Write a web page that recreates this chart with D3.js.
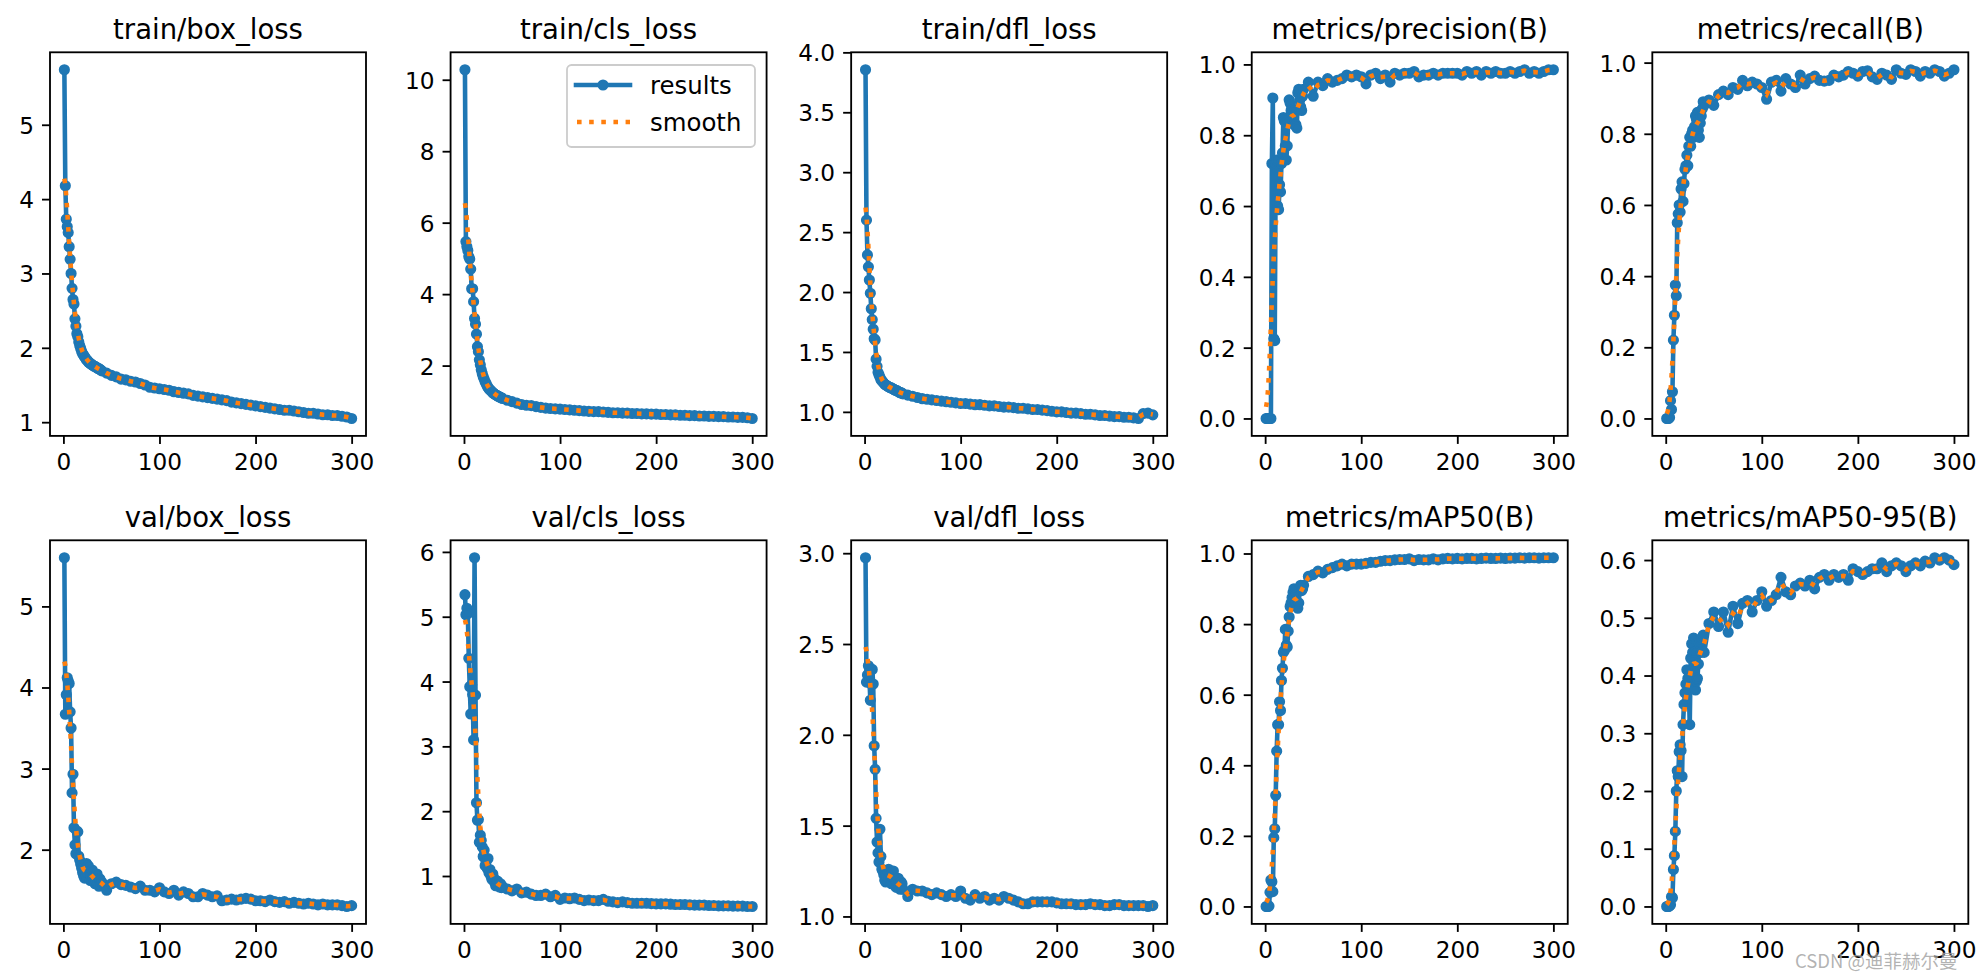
<!DOCTYPE html>
<html><head><meta charset="utf-8">
<script src="https://cdn.jsdelivr.net/npm/d3@7"></script>
<style>html,body{margin:0;padding:0;background:#fff;} svg{display:block;}</style>
</head><body>
<svg id="chart" width="1981" height="979"></svg>
<script>
// ---------------- data ----------------
const epochs = [1,2,3,4,5,6,7,8,9,10,11,12,13,14,15,16,17,18,19,20,21,22,23,24,25,26,27,28,29,30,31,32,33,34,35,36,37,38,39,40,
  45,50,55,60,65,70,75,80,85,90,95,100,105,110,115,120,125,130,135,140,145,150,155,160,165,170,175,180,185,190,195,200,
  205,210,215,220,225,230,235,240,245,250,255,260,265,270,275,280,285,290,295,300];

const trainBoxLoss = [5.74,4.18,3.73,3.63,3.55,3.36,3.19,3.00,2.80,2.65,2.59,2.39,2.29,2.19,2.15,2.08,2.03,1.99,1.95,1.92,
  1.90,1.88,1.86,1.84,1.83,1.81,1.80,1.79,1.78,1.77,1.76,1.75,1.75,1.74,1.73,1.72,1.72,1.71,1.70,1.69,
  1.66,1.63,1.61,1.58,1.57,1.55,1.54,1.52,1.50,1.47,1.46,1.45,1.44,1.43,1.41,1.40,1.39,1.38,1.36,1.35,1.34,1.33,1.32,1.31,1.30,1.29,
  1.27,1.26,1.25,1.24,1.23,1.22,1.21,1.20,1.19,1.18,1.17,1.16,1.16,1.15,1.14,1.13,1.12,1.12,1.11,1.10,1.10,1.09,1.09,1.08,1.07,1.05];

const trainClsLoss = [10.28,5.47,5.33,5.22,5.05,4.98,4.70,4.15,4.15,3.79,3.32,3.16,2.88,2.53,2.39,2.16,2.02,1.88,1.78,1.69,
  1.62,1.55,1.50,1.44,1.39,1.35,1.32,1.30,1.27,1.24,1.22,1.20,1.18,1.17,1.15,1.14,1.12,1.11,1.10,1.08,
  1.03,0.99,0.95,0.91,0.89,0.88,0.85,0.83,0.81,0.80,0.79,0.78,0.77,0.76,0.75,0.74,0.73,0.72,0.71,0.71,0.70,0.69,0.68,0.68,0.67,0.67,
  0.66,0.66,0.65,0.65,0.64,0.64,0.63,0.63,0.62,0.62,0.61,0.61,0.60,0.60,0.59,0.59,0.58,0.58,0.57,0.57,0.56,0.56,0.55,0.55,0.54,0.52];

const trainDflLoss = [3.855,2.60,2.31,2.21,2.10,1.99,1.86,1.77,1.69,1.61,1.60,1.44,1.38,1.33,1.31,1.29,1.27,1.26,1.25,1.24,
  1.23,1.225,1.22,1.215,1.21,1.205,1.20,1.20,1.195,1.19,1.185,1.18,1.18,1.175,1.17,1.165,1.16,1.16,1.155,1.15,
  1.14,1.13,1.12,1.11,1.105,1.10,1.095,1.09,1.085,1.08,1.075,1.07,1.07,1.065,1.06,1.06,1.055,1.05,1.05,1.045,1.04,1.04,1.035,1.03,1.03,
  1.025,1.02,1.02,1.015,1.01,1.005,1.00,1.00,0.995,0.99,0.99,0.985,0.98,0.98,0.975,0.97,0.97,0.965,0.96,0.96,0.955,0.955,0.95,0.945,0.985,0.99,0.975];

const precision = [0,0,0,0,0,0,0.72,0.905,0.225,0.22,0.72,0.73,0.60,0.59,0.66,0.64,0.72,0.75,0.85,0.84,
  0.77,0.73,0.77,0.84,0.90,0.89,0.87,0.86,0.84,0.83,0.87,0.83,0.82,0.92,0.93,0.90,0.88,0.87,0.91,0.93,
  0.95,0.91,0.95,0.94,0.96,0.95,0.955,0.96,0.97,0.965,0.97,0.965,0.945,0.97,0.975,0.96,0.97,0.95,0.975,0.97,0.975,0.975,0.98,0.965,0.97,
  0.97,0.975,0.97,0.975,0.975,0.975,0.975,0.97,0.98,0.975,0.98,0.97,0.98,0.975,0.98,0.975,0.975,0.98,0.975,0.98,0.985,0.975,0.98,0.975,0.98,0.985,0.985];

const recall = [0,0,0,0.003,0.05,0.025,0.075,0.22,0.29,0.375,0.345,0.55,0.575,0.60,0.58,0.645,0.665,0.61,0.66,0.70,
  0.71,0.74,0.71,0.765,0.79,0.765,0.80,0.81,0.79,0.82,0.85,0.84,0.86,0.81,0.79,0.83,0.85,0.87,0.89,0.88,
  0.895,0.88,0.91,0.92,0.91,0.93,0.925,0.95,0.935,0.945,0.94,0.93,0.897,0.945,0.95,0.92,0.955,0.94,0.93,0.965,0.94,0.955,0.962,0.95,0.948,
  0.95,0.965,0.96,0.965,0.975,0.97,0.962,0.975,0.977,0.96,0.953,0.97,0.965,0.953,0.98,0.97,0.967,0.98,0.975,0.962,0.975,0.97,0.98,0.975,0.962,0.97,0.98];

const valBoxLoss = [5.60,3.67,3.91,4.12,4.08,4.05,3.70,3.50,2.70,2.93,2.27,2.06,1.95,2.23,2.22,1.92,1.87,1.82,1.77,1.72,
  1.68,1.65,1.70,1.83,1.78,1.80,1.70,1.62,1.68,1.75,1.65,1.60,1.58,1.62,1.70,1.60,1.55,1.64,1.57,1.60,
  1.50,1.58,1.60,1.57,1.56,1.54,1.52,1.55,1.50,1.50,1.48,1.53,1.48,1.46,1.50,1.44,1.48,1.46,1.42,1.42,1.46,1.44,1.42,1.43,1.37,
  1.38,1.39,1.38,1.39,1.40,1.39,1.37,1.37,1.36,1.38,1.36,1.35,1.36,1.34,1.35,1.34,1.33,1.34,1.33,1.32,1.33,1.32,1.32,1.32,1.31,1.30,1.31];

const valClsLoss = [5.34,5.03,5.13,5.05,4.36,3.92,3.50,3.95,3.80,3.10,5.91,3.79,2.13,1.86,1.87,1.52,1.63,1.55,1.45,1.30,
  1.40,1.16,1.22,1.12,1.27,1.05,1.10,1.00,0.95,1.03,0.97,0.90,0.85,0.88,0.92,0.86,0.83,0.88,0.82,0.84,
  0.80,0.77,0.80,0.74,0.75,0.72,0.70,0.70,0.72,0.68,0.70,0.64,0.66,0.65,0.66,0.64,0.62,0.63,0.62,0.62,0.64,0.61,0.60,0.59,0.60,
  0.59,0.58,0.58,0.58,0.58,0.575,0.57,0.57,0.57,0.565,0.56,0.56,0.56,0.555,0.55,0.55,0.55,0.545,0.545,0.54,0.54,0.54,0.535,0.535,0.535,0.53,0.53];

const valDflLoss = [2.975,2.29,2.33,2.38,2.32,2.19,2.28,2.36,2.28,1.94,1.81,1.54,1.41,1.35,1.30,1.48,1.33,1.26,1.25,1.23,
  1.20,1.19,1.22,1.25,1.26,1.24,1.20,1.18,1.22,1.25,1.21,1.17,1.16,1.19,1.21,1.16,1.15,1.19,1.18,1.15,
  1.11,1.15,1.14,1.14,1.13,1.12,1.13,1.12,1.11,1.12,1.11,1.14,1.10,1.09,1.12,1.10,1.11,1.09,1.10,1.09,1.11,1.10,1.09,1.08,1.07,
  1.07,1.08,1.08,1.08,1.08,1.08,1.075,1.07,1.07,1.07,1.065,1.065,1.065,1.07,1.065,1.065,1.06,1.06,1.065,1.065,1.06,1.06,1.06,1.06,1.06,1.055,1.06];

const mAP50 = [0,0,0,0.001,0.04,0.075,0.07,0.042,0.195,0.22,0.315,0.44,0.515,0.515,0.58,0.555,0.64,0.675,0.72,0.725,
  0.785,0.74,0.735,0.78,0.82,0.85,0.86,0.875,0.89,0.90,0.88,0.86,0.85,0.845,0.86,0.90,0.91,0.895,0.90,0.91,
  0.935,0.94,0.95,0.945,0.955,0.96,0.965,0.97,0.965,0.97,0.97,0.97,0.972,0.975,0.975,0.978,0.98,0.98,0.982,0.983,0.983,0.985,0.98,0.983,0.982,
  0.982,0.985,0.982,0.985,0.986,0.985,0.986,0.985,0.986,0.986,0.985,0.986,0.987,0.986,0.986,0.987,0.986,0.987,0.987,0.988,0.987,0.988,0.988,0.987,0.988,0.988,0.988];

const mAP5095 = [0,0,0,0.001,0.003,0.017,0.015,0.064,0.088,0.13,0.20,0.235,0.225,0.268,0.28,0.27,0.225,0.315,0.35,0.37,
  0.385,0.41,0.395,0.38,0.315,0.43,0.455,0.44,0.465,0.44,0.375,0.39,0.395,0.42,0.455,0.46,0.44,0.465,0.47,0.44,
  0.49,0.51,0.485,0.51,0.475,0.52,0.49,0.525,0.53,0.51,0.53,0.545,0.52,0.53,0.54,0.57,0.545,0.54,0.555,0.56,0.555,0.565,0.55,0.57,0.575,
  0.565,0.575,0.57,0.575,0.565,0.585,0.58,0.575,0.58,0.585,0.585,0.595,0.58,0.59,0.595,0.59,0.58,0.59,0.595,0.59,0.598,0.595,0.604,0.60,0.604,0.60,0.592];

const titles = ["train/box_loss","train/cls_loss","train/dfl_loss","metrics/precision(B)","metrics/recall(B)",
  "val/box_loss","val/cls_loss","val/dfl_loss","metrics/mAP50(B)","metrics/mAP50-95(B)"];

const xTicks = [0,100,200,300];
const yTicksTrainBox = [1,2,3,4,5];
const yTicksTrainCls = [2,4,6,8,10];
const yTicksTrainDfl = [1.0,1.5,2.0,2.5,3.0,3.5,4.0];
const yTicksUnit = [0.0,0.2,0.4,0.6,0.8,1.0];
const yTicksValBox = [2,3,4,5];
const yTicksValCls = [1,2,3,4,5,6];
const yTicksValDfl = [1.0,1.5,2.0,2.5,3.0];
const yTicksMap5095 = [0.0,0.1,0.2,0.3,0.4,0.5,0.6];
const legendLabels = ["results","smooth"];

// ---------------- drawing ----------------
const C0 = "#1f77b4", C1 = "#ff7f0e";
const PT = 165/72;               // px per point
const LW = 2*PT;                 // line width 2pt
const MR = 4.58, MEW = 2.0;      // marker radius / edge width
const TICK_FS = 23.2, TITLE_FS = 27.5, LEG_FS = 24.4;
const FONT = "DejaVu Sans, sans-serif";
const AW = 316, AH = 383.6, LEFT0 = 50, COLSTEP = 400.58, TOPS = [52.3, 540.3];

const series = [trainBoxLoss, trainClsLoss, trainDflLoss, precision, recall,
                valBoxLoss, valClsLoss, valDflLoss, mAP50, mAP5095];
const yTickSets = [yTicksTrainBox, yTicksTrainCls, yTicksTrainDfl, yTicksUnit, yTicksUnit,
                   yTicksValBox, yTicksValCls, yTicksValDfl, yTicksUnit, yTicksMap5095];
const decimals = [0,0,1,1,1,0,0,1,1,1];

// gaussian smoothing (sigma = 3 epochs, reflect at the ends) of the read values
function smooth(xs, ys, sigma) {
  const n = xs.length;
  const dx = xs.map((x,i) => ((i < n-1 ? xs[i+1] : x + 1) - (i > 0 ? xs[i-1] : x - 1)) / 2);
  return xs.map(t => {
    let num = 0, den = 0;
    for (let i = 0; i < n; i++) {
      for (const xx of [xs[i], 1 - xs[i], 601 - xs[i]]) {
        const w = dx[i] * Math.exp(-0.5 * ((t - xx) / sigma) ** 2);
        num += w * ys[i]; den += w;
      }
    }
    return num / den;
  });
}

const svg = d3.select("#chart");
svg.append("rect").attr("width",1981).attr("height",979).attr("fill","#fff");
const defs = svg.append("defs");

series.forEach((ys, k) => {
  const col = k % 5, row = Math.floor(k / 5);
  const x0 = LEFT0 + col * COLSTEP, y0 = TOPS[row];
  const sm = smooth(epochs, ys, 3);
  const all = ys.concat(sm);
  const mn = d3.min(all), mx = d3.max(all), r = mx - mn;
  const xMin = d3.min(epochs), xMax = d3.max(epochs), xr = xMax - xMin;
  const xs = d3.scaleLinear().domain([xMin - 0.05*xr, xMax + 0.05*xr]).range([x0, x0 + AW]);
  const yS = d3.scaleLinear().domain([mn - 0.05*r, mx + 0.05*r]).range([y0 + AH, y0]);

  defs.append("clipPath").attr("id", "clip" + k)
    .append("rect").attr("x", x0).attr("y", y0).attr("width", AW).attr("height", AH);

  const g = svg.append("g");
  const plot = g.append("g").attr("clip-path", `url(#clip${k})`);
  const line = d3.line().x((d,i) => xs(epochs[i])).y(d => yS(d));

  plot.append("path").datum(ys).attr("d", line)
    .attr("fill","none").attr("stroke",C0).attr("stroke-width",LW)
    .attr("stroke-linejoin","round").attr("stroke-linecap","square");
  plot.append("g").selectAll("circle").data(ys).join("circle")
    .attr("cx",(d,i) => xs(epochs[i])).attr("cy", d => yS(d))
    .attr("r", MR).attr("fill", C0).attr("stroke", C0).attr("stroke-width", MEW);
  plot.append("path").datum(sm).attr("d", line)
    .attr("fill","none").attr("stroke",C1).attr("stroke-width",LW)
    .attr("stroke-dasharray", `${LW},${1.65*LW}`).attr("stroke-linecap","butt");

  // axes frame
  g.append("rect").attr("x", x0).attr("y", y0).attr("width", AW).attr("height", AH)
    .attr("fill","none").attr("stroke","#000").attr("stroke-width", 0.8*PT);

  // x axis
  const xAxis = d3.axisBottom(xs).tickValues(xTicks).tickSize(3.5*PT).tickPadding(3.5*PT).tickFormat(d3.format("d"));
  const gx = g.append("g").attr("transform", `translate(0,${y0 + AH})`).call(xAxis);
  gx.select(".domain").remove();
  gx.selectAll("line").attr("stroke","#000").attr("stroke-width",0.8*PT);
  gx.selectAll("text").attr("font-family",FONT).attr("font-size",TICK_FS).attr("fill","#000")
    .attr("dy", null).attr("y", 7*PT + 0.76*TICK_FS);

  // y axis
  const fmt = decimals[k] ? d3.format(".1f") : d3.format("d");
  const tv = yTickSets[k].filter(v => v >= yS.domain()[0] && v <= yS.domain()[1]);
  const yAxis = d3.axisLeft(yS).tickValues(tv).tickSize(3.5*PT).tickPadding(3.5*PT).tickFormat(fmt);
  const gy = g.append("g").attr("transform", `translate(${x0},0)`).call(yAxis);
  gy.select(".domain").remove();
  gy.selectAll("line").attr("stroke","#000").attr("stroke-width",0.8*PT);
  gy.selectAll("text").attr("font-family",FONT).attr("font-size",TICK_FS).attr("fill","#000")
    .attr("dy", null).attr("dominant-baseline", null).attr("y", 0.3645*TICK_FS);

  // title
  g.append("text").attr("x", x0 + AW/2).attr("y", y0 - 6*PT)
    .attr("text-anchor","middle").attr("font-family",FONT).attr("font-size",TITLE_FS).attr("fill","#000")
    .text(titles[k]);

  // legend on the second panel
  if (k === 1) {
    const lg = svg.append("g");
    const bx = 567, by = 65, bw = 188, bh = 82;
    lg.append("rect").attr("x", bx).attr("y", by).attr("width", bw).attr("height", bh).attr("rx", 4.5)
      .attr("fill","#fff").attr("fill-opacity",0.8).attr("stroke","#cccccc").attr("stroke-width",1.8);
    const hx0 = bx + 9, hx1 = bx + 63, tx = bx + 83;
    const rowsY = [by + 20, by + 57];
    lg.append("line").attr("x1",hx0).attr("x2",hx1).attr("y1",rowsY[0]).attr("y2",rowsY[0])
      .attr("stroke",C0).attr("stroke-width",LW).attr("stroke-linecap","square");
    lg.append("circle").attr("cx",(hx0+hx1)/2).attr("cy",rowsY[0]).attr("r",MR)
      .attr("fill",C0).attr("stroke",C0).attr("stroke-width",MEW);
    lg.append("line").attr("x1",hx0+1).attr("x2",hx1).attr("y1",rowsY[1]).attr("y2",rowsY[1])
      .attr("stroke",C1).attr("stroke-width",LW).attr("stroke-dasharray",`${LW},${1.65*LW}`);
    legendLabels.forEach((t,i) => {
      lg.append("text").attr("x", tx).attr("y", rowsY[i] + 0.3645*LEG_FS)
        .attr("font-family",FONT).attr("font-size",LEG_FS).attr("fill","#000").text(t);
    });
  }
});

// watermark (overlaps the tick labels in the reference too)
svg.append("text").attr("x", 1795).attr("y", 968)
  .attr("font-family", "Noto Sans CJK SC, DejaVu Sans, sans-serif").attr("font-size", 18.5)
  .attr("fill", "#9a9a9a").attr("fill-opacity", 0.75)
  .attr("stroke", "#ffffff").attr("stroke-width", 0.6).attr("stroke-opacity", 0.5)
  .attr("paint-order","stroke")
  .text("CSDN @迪菲赫尔曼");
</script>
</body></html>
